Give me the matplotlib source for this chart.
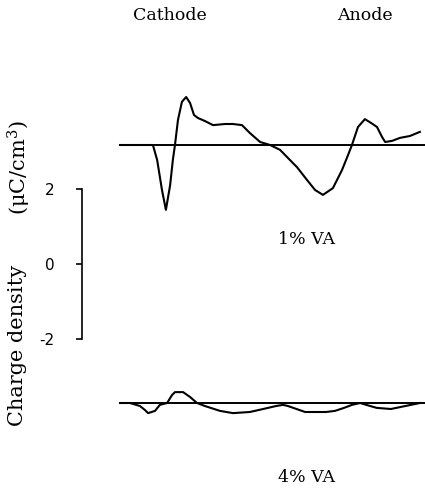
import matplotlib
matplotlib.use("Agg")
import matplotlib.pyplot as plt

# positions normalised across the electrode gap (0 = cathode side, 1 = anode side)
pos_1 = [0.0, 0.066, 0.109, 0.123, 0.139, 0.152, 0.166, 0.175, 0.182, 0.192, 0.205,
         0.219, 0.232, 0.245, 0.258, 0.281, 0.308, 0.348, 0.374, 0.404, 0.430, 0.464,
         0.497, 0.530, 0.553, 0.586, 0.619, 0.646, 0.672, 0.705, 0.735, 0.755, 0.768,
         0.788, 0.811, 0.831, 0.851, 0.868, 0.878, 0.901, 0.927, 0.960, 0.993]
rho_1 = [0.0, 0.0, 0.0, -0.40, -1.20, -1.73, -1.07, -0.40, 0.0, 0.67, 1.15,
         1.28, 1.12, 0.80, 0.72, 0.64, 0.53, 0.56, 0.56, 0.53, 0.32, 0.08,
         0.0, -0.13, -0.32, -0.59, -0.93, -1.20, -1.33, -1.15, -0.67, -0.27, 0.0,
         0.48, 0.69, 0.59, 0.48, 0.21, 0.08, 0.11, 0.19, 0.24, 0.35]

pos_4 = [0.0, 0.033, 0.066, 0.083, 0.093, 0.116, 0.132, 0.156, 0.172, 0.182, 0.209,
         0.232, 0.255, 0.281, 0.331, 0.374, 0.430, 0.474, 0.517, 0.540, 0.556, 0.613,
         0.649, 0.682, 0.712, 0.742, 0.768, 0.795, 0.828, 0.850, 0.897, 0.993]
rho_4 = [0.0, 0.0, -0.08, -0.19, -0.27, -0.21, -0.05, 0.0, 0.21, 0.29, 0.29,
         0.16, 0.0, -0.08, -0.21, -0.27, -0.24, -0.16, -0.08, -0.05, -0.08, -0.24,
         -0.24, -0.24, -0.21, -0.13, -0.05, 0.0, -0.08, -0.13, -0.16, 0.0]

scale_ticks = [-2, 0, 2]
scale_labels = ["-2", "0", "2"]

plt.rcParams["mathtext.fontset"] = "dejavuserif"

W, H = 425, 493
fig = plt.figure(figsize=(W / 100, H / 100), dpi=100)
fig.patch.set_facecolor("white")

px_per_unit = 37.5
x0_px, x1_px = 120, 422
xspan = x1_px - x0_px

ax = fig.add_axes([0, 0, 1, 1])
ax.set_xlim(-x0_px / xspan, (W - x0_px) / xspan)
ax.set_ylim(0, H / px_per_unit)
ax.axis("off")

off_1 = (H - 145) / px_per_unit
off_4 = (H - 403) / px_per_unit

for pos, rho, off in [(pos_1, rho_1, off_1), (pos_4, rho_4, off_4)]:
    ax.plot(pos, [r + off for r in rho], color="black", lw=1.5)
    ax.plot([0.0, 1.01], [off, off], color="black", lw=1.4)

serif = "DejaVu Serif"
fig.text(170 / W, 1 - 16 / H, "Cathode", ha="center", va="center", family=serif, fontsize=12.5)
fig.text(365 / W, 1 - 16 / H, "Anode", ha="center", va="center", family=serif, fontsize=12.5)
fig.text(306 / W, 1 - 240 / H, "1% VA", ha="center", va="center", family=serif, fontsize=12.5)
fig.text(306 / W, 1 - 477 / H, "4% VA", ha="center", va="center", family=serif, fontsize=12.5)

fig.text(18 / W, 1 - 345 / H, "Charge density", rotation=90, ha="center", va="center",
         family=serif, fontsize=15)
fig.text(19 / W, 1 - 168 / H, r"(μC/cm$^3$)", rotation=90, ha="center", va="center",
         family=serif, fontsize=15)

# scale bar axis
sax = fig.add_axes([82 / W, (H - 339) / H, 0.001, 150 / H])
sax.set_ylim(-2, 2)
sax.set_xlim(0, 1)
for s in ["top", "right", "bottom"]:
    sax.spines[s].set_visible(False)
sax.spines["left"].set_linewidth(1.2)
sax.patch.set_visible(False)
sax.set_xticks([])
sax.set_yticks(scale_ticks)
sax.set_yticklabels(scale_labels)
sax.tick_params(axis="y", direction="out", length=4, width=1.2, pad=16, labelsize=11)

fig.savefig("out.png", dpi=100, facecolor="white")
